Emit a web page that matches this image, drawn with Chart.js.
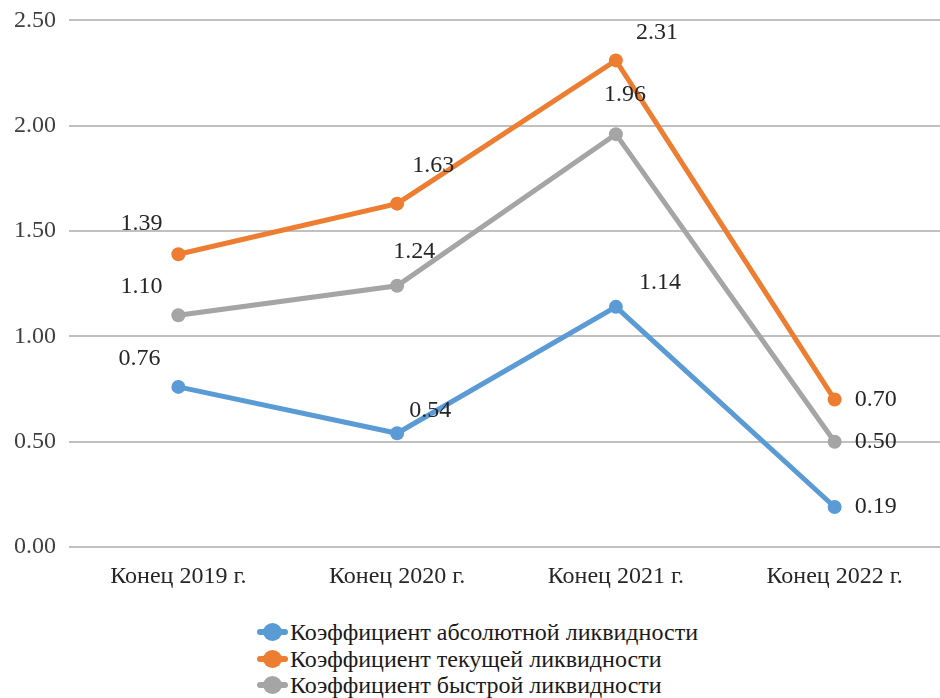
<!DOCTYPE html>
<html>
<head>
<meta charset="utf-8">
<script src="https://cdn.jsdelivr.net/npm/chart.js@4"></script>
<style>
  html, body { margin: 0; padding: 0; background: #fff; overflow: hidden; }
  #wrap { position: absolute; left: 0; top: -7px; width: 951px; height: 607px; }
  #legend {
    position: absolute; left: 257px; top: 619px;
    font-family: 'Liberation Serif', 'Times New Roman', serif;
    font-size: 24px; color: #1a1a1a;
  }
  .item { display: flex; align-items: center; height: 26.5px; line-height: 26px; }
  .mark { position: relative; width: 31px; height: 18px; margin-right: 2px; }
  .mark .ln { position: absolute; left: 0; right: 0; top: 6px; height: 6px; border-radius: 3px; }
  .mark .dot { position: absolute; left: 6px; top: 0px; width: 19px; height: 18px; border-radius: 50%; }
</style>
</head>
<body>
<div id="wrap"><canvas id="chart" width="951" height="607"></canvas></div>
<div id="legend"></div>
<script>
// data
const categories = ["Конец 2019 г.", "Конец 2020 г.", "Конец 2021 г.", "Конец 2022 г."];
const absoluteRatio = [0.76, 0.54, 1.14, 0.19];
const currentRatio = [1.39, 1.63, 2.31, 0.70];
const quickRatio = [1.10, 1.24, 1.96, 0.50];
const seriesNames = [
  "Коэффициент абсолютной ликвидности",
  "Коэффициент текущей ликвидности",
  "Коэффициент быстрой ликвидности",
];
const yTicks = [0, 0.5, 1, 1.5, 2, 2.5];

// where each value label sits relative to its point (px)
const labelOffsets = [
  [[-39, -28], [33, -23], [44, -24], [41, 0]],
  [[-37, -31], [36, -38], [41, -28], [41, 0]],
  [[-37, -29], [17, -34], [9, -39], [41, 0]],
];

const colors = ["#5b9bd5", "#ed7d31", "#a5a5a5"];
const FONT = "'Liberation Serif', 'Times New Roman', serif";

const valueLabels = {
  id: "valueLabels",
  afterDatasetsDraw(chart) {
    const ctx = chart.ctx;
    ctx.save();
    ctx.font = "24px " + FONT;
    ctx.fillStyle = "#262626";
    ctx.textAlign = "center";
    ctx.textBaseline = "middle";
    chart.data.datasets.forEach((ds, i) => {
      chart.getDatasetMeta(i).data.forEach((pt, j) => {
        const off = labelOffsets[i][j];
        ctx.fillText(ds.data[j].toFixed(2), pt.x + off[0], pt.y + off[1]);
      });
    });
    ctx.restore();
  },
};

const mkSet = (label, data, color) => ({
  label,
  data,
  borderColor: color,
  backgroundColor: color,
  borderWidth: 5,
  pointRadius: 7,
  pointHoverRadius: 7,
  pointBorderWidth: 0,
  tension: 0,
});

const chart = new Chart(document.getElementById("chart"), {
  type: "line",
  data: {
    labels: categories,
    datasets: [
      mkSet(seriesNames[0], absoluteRatio, colors[0]),
      mkSet(seriesNames[1], currentRatio, colors[1]),
      mkSet(seriesNames[2], quickRatio, colors[2]),
    ],
  },
  options: {
    responsive: false,
    animation: false,
    devicePixelRatio: 1,
    layout: { padding: 0 },
    plugins: { legend: { display: false }, tooltip: { enabled: false } },
    scales: {
      x: {
        offset: true,
        grid: { display: false, drawTicks: false },
        border: { display: false },
        ticks: { color: "#262626", font: { family: FONT, size: 24 }, padding: 15, maxRotation: 0 },
        afterFit: (s) => { s.height = 53; },
      },
      y: {
        min: 0,
        max: 2.5,
        afterBuildTicks: (s) => { s.ticks = yTicks.map((v) => ({ value: v })); },
        grid: { color: "#c0c0c0", lineWidth: 2, drawTicks: false },
        border: { display: false },
        ticks: {
          color: "#404040",
          font: { family: FONT, size: 24 },
          padding: 13,
          callback: (v) => Number(v).toFixed(2),
        },
        afterFit: (s) => { s.width = 69; },
      },
    },
  },
  plugins: [valueLabels],
});

// legend below the chart
const legend = document.getElementById("legend");
chart.data.datasets.forEach((ds) => {
  const row = document.createElement("div");
  row.className = "item";
  row.innerHTML =
    '<span class="mark"><span class="ln" style="background:' + ds.borderColor +
    '"></span><span class="dot" style="background:' + ds.borderColor +
    '"></span></span><span>' + ds.label + "</span>";
  legend.appendChild(row);
});
</script>
</body>
</html>
